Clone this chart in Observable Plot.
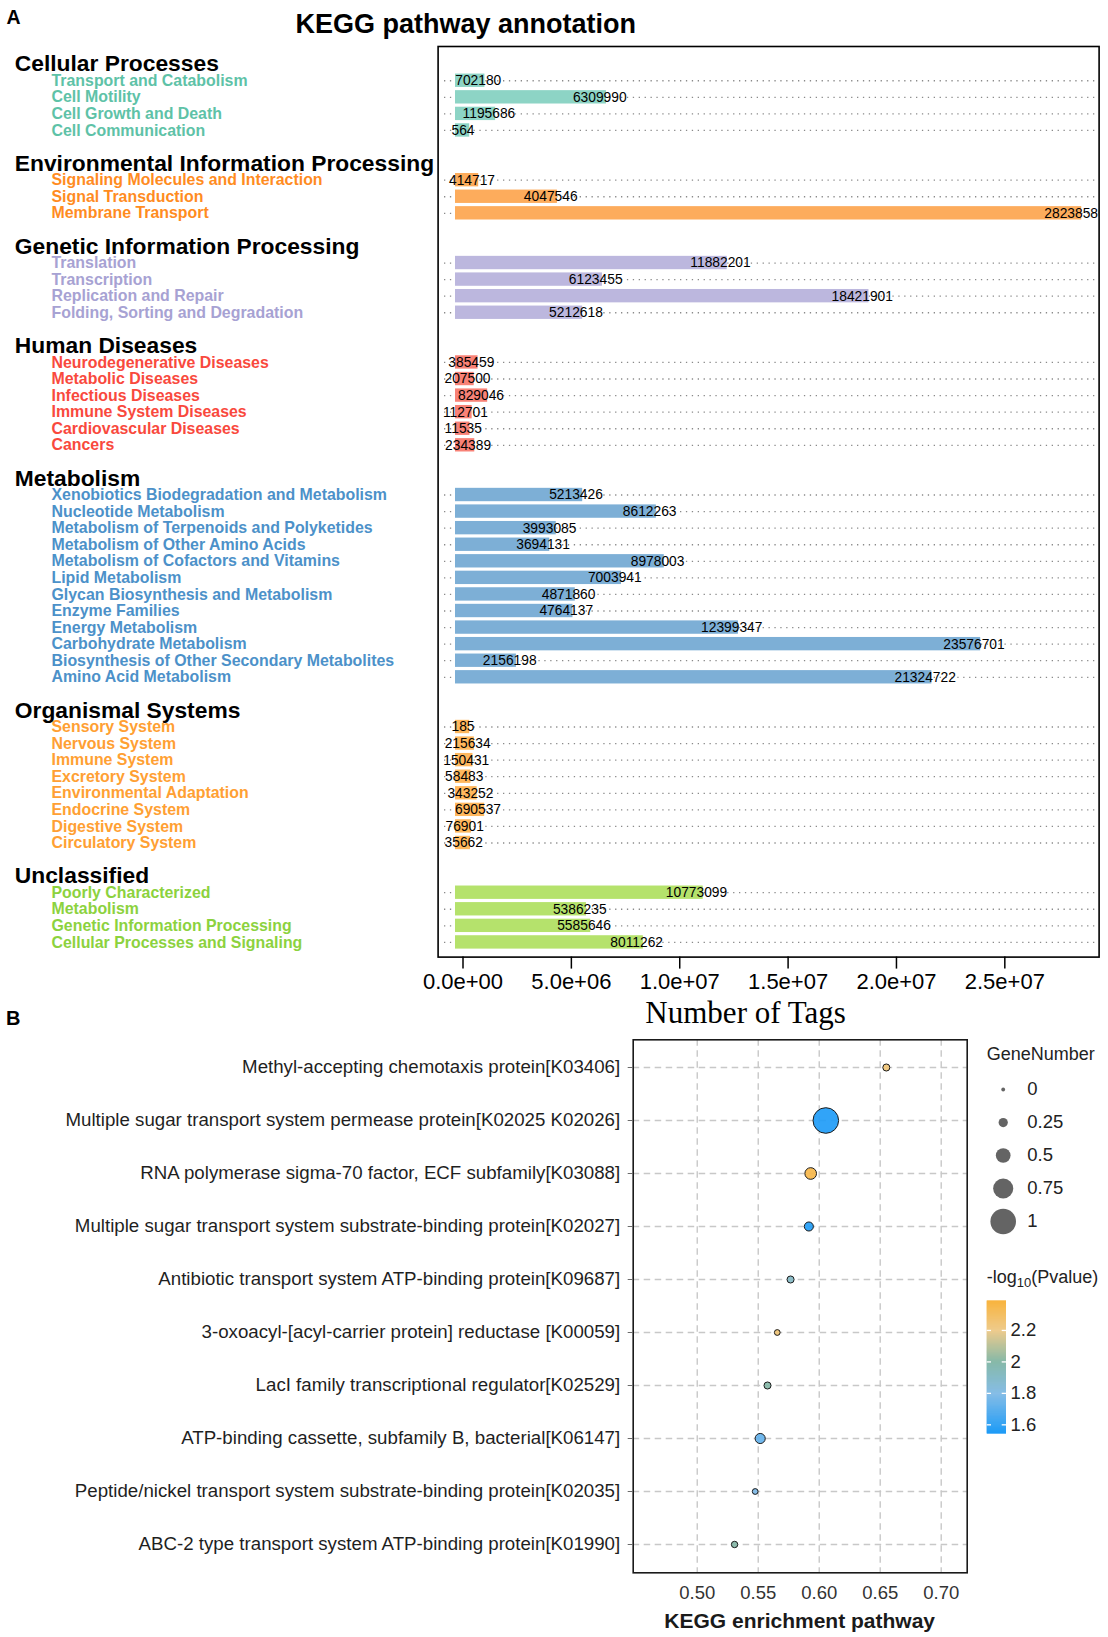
<!DOCTYPE html>
<html><head><meta charset="utf-8">
<script src="https://cdn.jsdelivr.net/npm/d3@7"></script>
<script src="https://cdn.jsdelivr.net/npm/@observablehq/plot@0.6"></script>
<style>
html,body{margin:0;padding:0;background:#fff;}
#fig{position:relative;width:1108px;height:1637px;font-family:"Liberation Sans",Arial,Helvetica,sans-serif;overflow:hidden;background:#fff;}
.abs{position:absolute;white-space:nowrap;color:#000;}
.abs sub{font-size:13px;line-height:0;vertical-align:-4px;}
</style></head><body><div id="fig"></div>
<script>
// ---------------- DATA: panel A (KEGG pathway annotation) ----------------
const groupNames = ["Cellular Processes","Environmental Information Processing","Genetic Information Processing","Human Diseases","Metabolism","Organismal Systems","Unclassified"];

const cellularPathways = ["Transport and Catabolism","Cell Motility","Cell Growth and Death","Cell Communication"];
const cellularTags = [702180, 6309990, 1195686, 564];

const environmentalPathways = ["Signaling Molecules and Interaction","Signal Transduction","Membrane Transport"];
const environmentalTags = [414717, 4047546, 28238580];

const geneticPathways = ["Translation","Transcription","Replication and Repair","Folding, Sorting and Degradation"];
const geneticTags = [11882201, 6123455, 18421901, 5212618];

const humanPathways = ["Neurodegenerative Diseases","Metabolic Diseases","Infectious Diseases","Immune System Diseases","Cardiovascular Diseases","Cancers"];
const humanTags = [385459, 207500, 829046, 112701, 11535, 234389];

const metabolismPathways = ["Xenobiotics Biodegradation and Metabolism","Nucleotide Metabolism","Metabolism of Terpenoids and Polyketides","Metabolism of Other Amino Acids","Metabolism of Cofactors and Vitamins","Lipid Metabolism","Glycan Biosynthesis and Metabolism","Enzyme Families","Energy Metabolism","Carbohydrate Metabolism","Biosynthesis of Other Secondary Metabolites","Amino Acid Metabolism"];
const metabolismTags = [5213426, 8612263, 3993085, 3694131, 8978003, 7003941, 4871860, 4764137, 12399347, 23576701, 2156198, 21324722];

const organismalPathways = ["Sensory System","Nervous System","Immune System","Excretory System","Environmental Adaptation","Endocrine System","Digestive System","Circulatory System"];
const organismalTags = [185, 215634, 150431, 58483, 343252, 690537, 76901, 35662];

const unclassifiedPathways = ["Poorly Characterized","Metabolism","Genetic Information Processing","Cellular Processes and Signaling"];
const unclassifiedTags = [10773099, 5386235, 5585646, 8011262];

const xTicksA = [0, 5e6, 1e7, 1.5e7, 2e7, 2.5e7];

// ---------------- DATA: panel B (KEGG enrichment) ----------------
const keggTerms = [
  "Methyl-accepting chemotaxis protein[K03406]",
  "Multiple sugar transport system permease protein[K02025 K02026]",
  "RNA polymerase sigma-70 factor, ECF subfamily[K03088]",
  "Multiple sugar transport system substrate-binding protein[K02027]",
  "Antibiotic transport system ATP-binding protein[K09687]",
  "3-oxoacyl-[acyl-carrier protein] reductase [K00059]",
  "LacI family transcriptional regulator[K02529]",
  "ATP-binding cassette, subfamily B, bacterial[K06147]",
  "Peptide/nickel transport system substrate-binding protein[K02035]",
  "ABC-2 type transport system ATP-binding protein[K01990]"
];
const enrichment = [0.655, 0.6054, 0.593, 0.5915, 0.5765, 0.5656, 0.5576, 0.5516, 0.5475, 0.5306];
const geneNumber = [0.15, 1.0, 0.36, 0.24, 0.15, 0.09, 0.15, 0.29, 0.09, 0.12];
const negLog10P = [2.25, 1.55, 2.36, 1.56, 1.9, 2.25, 2.0, 1.72, 1.78, 2.0];
const xTicksB = [0.50, 0.55, 0.60, 0.65, 0.70];
const sizeBreaks = [0, 0.25, 0.5, 0.75, 1];
const colorBreaks = [1.6, 1.8, 2, 2.2];

// ---------------- STYLES ----------------
const groupTextColors = ["#5EC2A7","#FF8C1F","#A7A2D3","#F9493D","#4C91C9","#FFA033","#8CD23E"];
const groupBarColors  = ["#8DD4C5","#FDAC5C","#BCB7DE","#F88277","#7DAFD6","#FFB85E","#B5E26C"];
const FONT = "Liberation Sans, Arial, Helvetica, sans-serif";

const groupPathways = [cellularPathways, environmentalPathways, geneticPathways, humanPathways, metabolismPathways, organismalPathways, unclassifiedPathways];
const groupTags = [cellularTags, environmentalTags, geneticTags, humanTags, metabolismTags, organismalTags, unclassifiedTags];

const rows = [];
groupNames.forEach((g, gi) => {
  if (gi > 0) rows.push({id: rows.length, kind: "blank"});
  rows.push({id: rows.length, kind: "header", label: g});
  groupPathways[gi].forEach((p, pi) => rows.push({
    id: rows.length, kind: "item", label: p, value: groupTags[gi][pi],
    textColor: groupTextColors[gi], barColor: groupBarColors[gi]
  }));
});
const items = rows.filter(d => d.kind === "item");
const headers = rows.filter(d => d.kind === "header");

const fig = document.getElementById("fig");
function place(el, left, top) {
  el.style.position = "absolute";
  el.style.left = left + "px";
  el.style.top = top + "px";
  fig.appendChild(el);
  return el;
}
function label(html, left, top, css) {
  const d = document.createElement("div");
  d.className = "abs";
  d.innerHTML = html;
  Object.assign(d.style, css || {});
  return place(d, left, top);
}

const fmtE = v => {
  const [m, e] = v.toExponential(1).split("e");
  return m + "e" + e[0] + e.slice(1).padStart(2, "0");
};

// ---------------- Panel A ----------------
const plotA = Plot.plot({
  width: 1108, height: 1000,
  marginLeft: 437.6, marginRight: 9.4, marginTop: 46, marginBottom: 43.4,
  style: {fontFamily: FONT, fontSize: "22px", color: "black", background: "transparent", overflow: "visible"},
  x: {domain: [-1149000, 29350000]},
  y: {type: "band", domain: rows.map(d => d.id), padding: 0, insetTop: 9.4, insetBottom: 6.4, axis: null},
  color: {type: "identity"},
  marks: [
    Plot.ruleY(items, {y: "id", stroke: "#8a8a8a", strokeWidth: 1.3, strokeDasharray: "1.3,4.6", insetLeft: 6.4, insetRight: 3.6}),
    Plot.barX(items, {x: "value", y: "id", fill: "barColor", insetLeft: -7.5, insetRight: -6.7, insetTop: 1.6, insetBottom: 1.6}),
    Plot.text(items, {x: "value", y: "id", text: d => String(d.value), fontSize: 13.8, fill: "black", clip: true}),
    Plot.frame({stroke: "black", strokeWidth: 1.6}),
    Plot.text(headers, {y: "id", text: "label", frameAnchor: "left", dx: -423.3, textAnchor: "start", fontSize: 22.8, fontWeight: "bold", fill: "black"}),
    Plot.text(items, {y: "id", text: "label", frameAnchor: "left", dx: -386.6, textAnchor: "start", fontSize: 15.9, fontWeight: "bold", fill: "textColor"}),
    Plot.axisX({ticks: xTicksA, tickFormat: fmtE, tickSize: 12, tickPadding: 4, fontSize: 22, strokeWidth: 1.5, label: null})
  ]
});
place(plotA, 0, 0);

// ---------------- Panel B ----------------
const dataB = keggTerms.map((t, i) => ({term: t, enrich: enrichment[i], gene: geneNumber[i], p: negLog10P[i]}));
const colorB = {type: "linear", domain: [1.543, 1.8, 2.0, 2.2, 2.386], range: ["#1C9BF7", "#86BDE6", "#86B9A8", "#EECB8C", "#F8B43F"], interpolate: "rgb"};
const rB = {type: "linear", domain: [0, 1], range: [1.9, 12.8]};

const plotB = Plot.plot({
  width: 1108, height: 605,
  marginLeft: 632.7, marginRight: 141.3, marginTop: 7.3, marginBottom: 64.7,
  style: {fontFamily: FONT, fontSize: "18.7px", color: "#222", background: "transparent", overflow: "visible"},
  x: {domain: [0.4475, 0.7213]},
  y: {type: "point", domain: keggTerms, padding: 0.5},
  r: rB,
  color: colorB,
  marks: [
    Plot.ruleX(xTicksB, {stroke: "#c8c8c8", strokeWidth: 1.4, strokeDasharray: "6.5,4.5"}),
    Plot.ruleY(keggTerms, {stroke: "#c8c8c8", strokeWidth: 1.4, strokeDasharray: "6.5,4.5"}),
    Plot.dot(dataB, {x: "enrich", y: "term", r: "gene", fill: "p", fillOpacity: 0.92, stroke: "#1a1a1a", strokeWidth: 1}),
    Plot.frame({stroke: "#1a1a1a", strokeWidth: 1.6}),
    Plot.axisY({tickSize: 5, tickPadding: 8, fontSize: 18.7, fill: "#1f1f1f", stroke: "#6b6b6b", label: null}),
    Plot.axisX({ticks: xTicksB, tickFormat: d3.format(".2f"), tickSize: 0, tickPadding: 13, fontSize: 18.5, fill: "#333", label: null})
  ]
});
place(plotB, 0, 1032);

// size legend
const sizeLegend = Plot.plot({
  width: 128, height: 170, marginTop: 19.3, marginBottom: 18.3, marginLeft: 0, marginRight: 0,
  style: {fontFamily: FONT, fontSize: "18.5px", color: "#222", background: "transparent", overflow: "visible"},
  y: {type: "point", domain: sizeBreaks, padding: 0, axis: null},
  r: rB,
  marks: [
    Plot.dot(sizeBreaks, {y: d => d, r: d => d, fill: "#646464", frameAnchor: "left", dx: 22.7}),
    Plot.text(sizeBreaks, {y: d => d, text: d => String(d), frameAnchor: "left", dx: 46.7, textAnchor: "start", fontSize: 18.5, fill: "#222"})
  ]
});
place(sizeLegend, 980, 1070);

// colour bar
const cbDomain = [1.543, 2.386];
const nSteps = 120;
const ramp = d3.range(nSteps).map(i => {
  const a = cbDomain[0] + (cbDomain[1] - cbDomain[0]) * i / nSteps;
  const b = cbDomain[0] + (cbDomain[1] - cbDomain[0]) * (i + 1) / nSteps;
  return {y1: a, y2: b, v: (a + b) / 2};
});
const colorbar = Plot.plot({
  width: 128, height: 155, marginLeft: 6.7, marginRight: 102, marginTop: 10.7, marginBottom: 11.7,
  style: {fontFamily: FONT, fontSize: "18.5px", color: "#222", background: "transparent", overflow: "visible"},
  y: {domain: cbDomain, axis: null},
  color: colorB,
  marks: [
    Plot.rect(ramp, {y1: "y1", y2: "y2", fill: "v", insetTop: -0.4, insetBottom: -0.4}),
    Plot.tickY(colorBreaks, {y: d => d, stroke: "white", strokeWidth: 1.3, insetRight: 15}),
    Plot.tickY(colorBreaks, {y: d => d, stroke: "white", strokeWidth: 1.3, insetLeft: 15}),
    Plot.axisY({anchor: "right", ticks: colorBreaks, tickFormat: d => String(d), tickSize: 0, tickPadding: 4, fontSize: 18.5, fill: "#222", label: null})
  ]
});
place(colorbar, 980, 1290);

// ---------------- Text annotations ----------------
label("A", 6.4, 6, {fontWeight: "bold", fontSize: "19.5px", lineHeight: "22px"});
label("KEGG pathway annotation", 465.7, 9, {fontWeight: "bold", fontSize: "27px", lineHeight: "30px", transform: "translateX(-50%)"});
label("Number of Tags", 745.6, 995.3, {fontFamily: "'Liberation Serif','Times New Roman',serif", fontSize: "31px", lineHeight: "36px", transform: "translateX(-50%)"});
label("B", 6, 1006.5, {fontWeight: "bold", fontSize: "20px", lineHeight: "22px"});
label("KEGG enrichment pathway", 799.7, 1609.2, {fontWeight: "bold", fontSize: "21px", lineHeight: "24px", color: "#1a1a1a", transform: "translateX(-50%)"});
label("GeneNumber", 986.7, 1043.2, {fontSize: "18px", lineHeight: "22px", color: "#222"});
label("-log<sub>10</sub>(Pvalue)", 986.7, 1266, {fontSize: "18px", lineHeight: "22px", color: "#222"});
</script>
</body></html>
